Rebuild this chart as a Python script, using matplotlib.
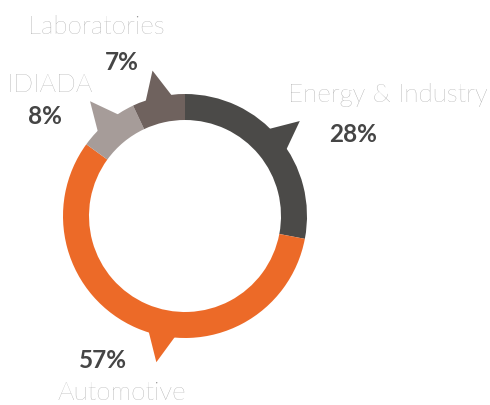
import numpy as np
import matplotlib
matplotlib.use("Agg")
import matplotlib.pyplot as plt
from matplotlib.patches import Polygon

categories = ["Energy & Industry", "Automotive", "IDIADA", "Laboratories"]
values = [28, 57, 8, 7]
pct_labels = ["28%", "57%", "8%", "7%"]
colors = ["#4b4a48", "#ec6a28", "#a69c99", "#6f625e"]
pointer_frac = [0.5, 0.44, 0.5, 0.5]  # where along each segment the pointer sits

W, H = 490, 405
fig = plt.figure(figsize=(W / 100, H / 100), dpi=100)
ax = fig.add_axes([0, 0, 1, 1])

cx, cy = 185, H - 216
R, width = 122, 26

wedges, _ = ax.pie(values, colors=colors, startangle=90, counterclock=False,
                   center=(cx, cy), radius=R, frame=True,
                   wedgeprops=dict(width=width, linewidth=0))

# pointers
for w, f, c in zip(wedges, pointer_frac, colors):
    a1, a2 = w.theta1, w.theta2
    ang = a1 + (a2 - a1) * (1 - f)
    half = 7.0
    pts = []
    for a in (ang - half, ang + half):
        r = np.radians(a)
        pts.append((cx + (R - 3) * np.cos(r), cy + (R - 3) * np.sin(r)))
    r = np.radians(ang)
    tip = (cx + 149 * np.cos(r), cy + 149 * np.sin(r))
    poly = Polygon([pts[0], tip, pts[1]], closed=True, facecolor=c, edgecolor="none")
    ax.add_patch(poly)

ax.set_xlim(0, W)
ax.set_ylim(0, H)
ax.set_aspect("equal")
ax.axis("off")

name_kw = dict(fontsize=18.7, color="#8f8f8f", fontfamily="Lato", fontweight="light",
               ha="center", va="center")
pct_kw = dict(fontsize=17.5, color="#454545", fontfamily="Lato", fontweight="bold",
              ha="center", va="center")

# label positions (pixel centers)
name_pos = {"Energy & Industry": (388, 95), "Automotive": (122, 393),
            "IDIADA": (50, 85), "Laboratories": (96, 27)}
pct_pos = {"28%": (353, 135), "57%": (103, 360), "8%": (45, 116), "7%": (122, 62)}

for cat, p in zip(categories, pct_labels):
    x, y = name_pos[cat]
    ax.text(x, H - y, cat, **name_kw)
    x, y = pct_pos[p]
    ax.text(x, H - y, p, **pct_kw)

fig.savefig("out.png", dpi=100)
